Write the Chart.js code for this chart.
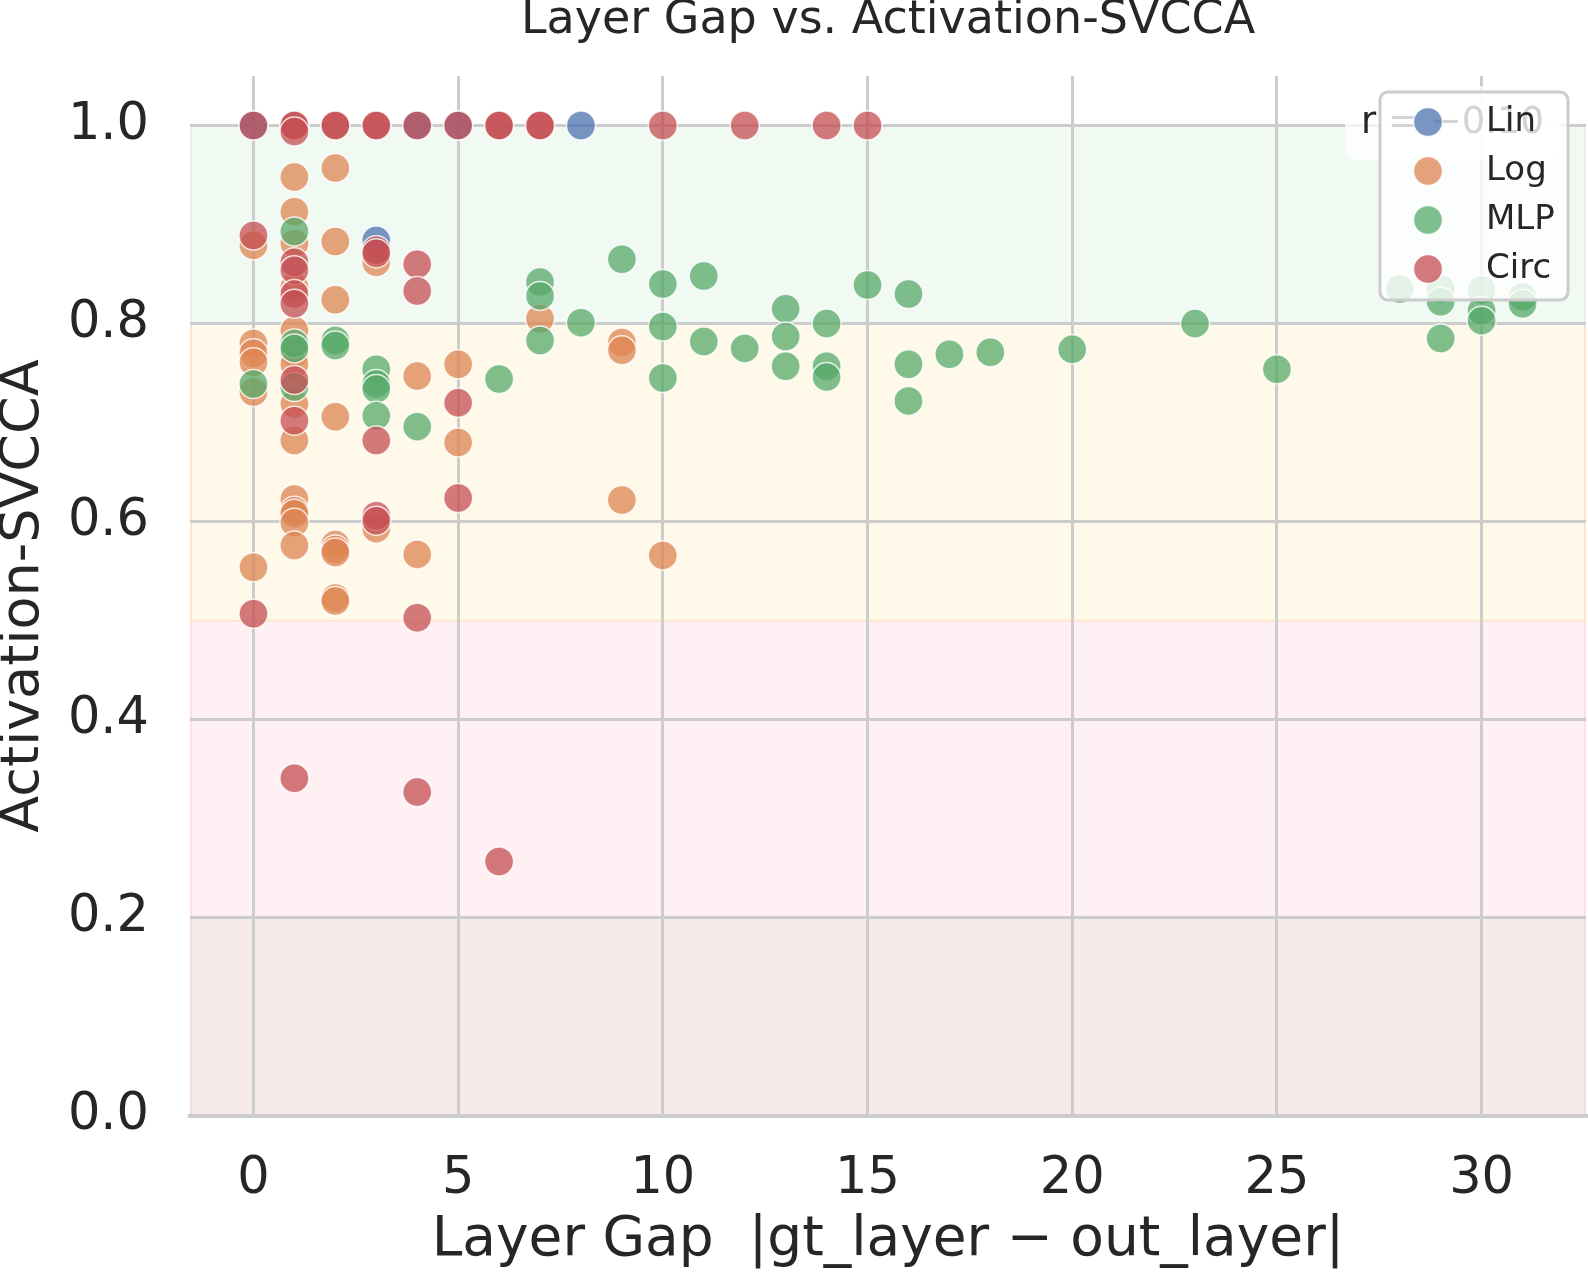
<!DOCTYPE html>
<html>
<head>
<meta charset="utf-8">
<title>Layer Gap vs. Activation-SVCCA</title>
<script src="https://cdn.jsdelivr.net/npm/chart.js@4"></script>
<style>
  html, body { margin: 0; padding: 0; background: #fff; }
  canvas { display: block; }
</style>
</head>
<body>
<canvas id="gapChart" width="1588" height="1275" style="width:1588px;height:1275px"></canvas>
<script>
// ---------- Data ----------
const seriesNames = ["Lin", "Log", "MLP", "Circ"];

const linX = [0, 3, 4, 5, 8];
const linY = [1.0, 0.884, 1.0, 1.0, 1.0];

const logX = [0, 0, 0, 0, 0, 0,
  1, 1, 1, 1, 1, 1, 1, 1, 1, 1, 1, 1, 1, 1,
  2, 2, 2, 2, 2, 2, 2, 2, 2,
  3, 3, 4, 4, 5, 5, 7, 9, 9, 9, 10];
const logY = [0.879, 0.780, 0.770, 0.761, 0.731, 0.554,
  0.948, 0.913, 0.881, 0.837, 0.793, 0.770, 0.759, 0.719, 0.682, 0.623, 0.611, 0.608, 0.599, 0.576,
  0.957, 0.883, 0.824, 0.706, 0.577, 0.572, 0.569, 0.523, 0.520,
  0.862, 0.593, 0.747, 0.567, 0.759, 0.680, 0.805, 0.781, 0.773, 0.622, 0.566];

const mlpX = [0, 1, 1, 1, 1, 2, 2, 3, 3, 3, 3, 4, 6, 7, 7, 7, 8, 9,
  10, 10, 10, 11, 11, 12, 13, 13, 13, 14, 14, 14, 15, 16, 16, 16,
  17, 18, 20, 23, 25, 28, 29, 29, 29, 30, 30, 30, 31, 31];
const mlpY = [0.739, 0.893, 0.780, 0.775, 0.736, 0.783, 0.778, 0.754, 0.739, 0.734, 0.707, 0.696, 0.744, 0.842, 0.828, 0.783, 0.801, 0.865,
  0.840, 0.797, 0.745, 0.848, 0.782, 0.775, 0.815, 0.787, 0.757, 0.800, 0.757, 0.746, 0.839, 0.830, 0.759, 0.722,
  0.769, 0.771, 0.774, 0.800, 0.754, 0.835, 0.835, 0.822, 0.785, 0.834, 0.813, 0.803, 0.827, 0.820];

const circX = [0, 0, 0, 1, 1, 1, 1, 1, 1, 1, 1, 1, 1, 2, 2,
  3, 3, 3, 3, 3, 3, 3, 4, 4, 4, 4, 4, 5, 5, 5, 6, 6, 6, 7, 7, 10, 12, 14, 15];
const circY = [1.0, 0.889, 0.507, 1.0, 1.0, 0.994, 0.862, 0.854, 0.830, 0.820, 0.743, 0.702, 0.341, 1.0, 1.0,
  1.0, 1.0, 0.874, 0.871, 0.682, 0.606, 0.601, 1.0, 0.860, 0.833, 0.503, 0.327, 1.0, 0.720, 0.624, 1.0, 1.0, 0.257, 1.0, 1.0, 1.0, 1.0, 1.0, 1.0];

const xTicks = [0, 5, 10, 15, 20, 25, 30];
const yTicks = [0, 0.2, 0.4, 0.6, 0.8, 1.0];
const yTickLabels = ["0.0", "0.2", "0.4", "0.6", "0.8", "1.0"];

// quality bands behind the points
const bandLow = [0, 0.2, 0.5, 0.8];
const bandHigh = [0.2, 0.5, 0.8, 1.0];

const corrText = "r = \u22120.10";

// ---------- Styles ----------
const FONT = "'DejaVu Sans', sans-serif";
const INK = "#262626";
const seriesColors = ["#4c72b0", "#dd8452", "#55a868", "#c44e52"];
const bandFill = ["#f5e9e9", "#fef0f3", "#fef9e8", "#f0f9f2"];
const bandEdge = ["#f1dcdc", "#fde0e7", "#fde6cc", "#e2f3e6"];
const MARK_ALPHA = 0.75;

function rgba(hex, a) {
  const n = parseInt(hex.slice(1), 16);
  return `rgba(${(n >> 16) & 255}, ${(n >> 8) & 255}, ${n & 255}, ${a})`;
}

function toPoints(xs, ys) {
  return xs.map((x, i) => ({ x: x, y: ys[i] }));
}

// ---------- Plugins ----------
const bandsPlugin = {
  id: "bands",
  beforeDraw(chart) {
    const { ctx, chartArea, scales } = chart;
    ctx.save();
    ctx.fillStyle = "#ffffff";
    ctx.fillRect(0, 0, chart.width, chart.height);
    for (let i = 0; i < bandLow.length; i++) {
      const yTop = scales.y.getPixelForValue(bandHigh[i]);
      const yBot = scales.y.getPixelForValue(bandLow[i]);
      ctx.fillStyle = bandFill[i];
      ctx.fillRect(chartArea.left, yTop, chartArea.right - chartArea.left, yBot - yTop);
      ctx.strokeStyle = bandEdge[i];
      ctx.lineWidth = 2;
      ctx.strokeRect(chartArea.left + 1, yTop, chartArea.right - chartArea.left - 2, yBot - yTop);
    }
    ctx.restore();
  }
};

const overlayPlugin = {
  id: "overlay",
  afterDraw(chart) {
    const { ctx, chartArea } = chart;
    const w = chartArea.right - chartArea.left;
    ctx.save();

    // correlation label (upper right, partly under the legend)
    ctx.font = `37px ${FONT}`;
    const tw = ctx.measureText(corrText).width;
    const tx = chartArea.left + 0.97 * w - tw;
    const ty = 123;
    ctx.fillStyle = "rgba(255,255,255,0.75)";
    ctx.beginPath();
    ctx.roundRect(tx - 16, ty - 37, tw + 32, 74, 10);
    ctx.fill();
    ctx.fillStyle = INK;
    ctx.textAlign = "left";
    ctx.textBaseline = "middle";
    ctx.fillText(corrText, tx, ty);

    // legend
    const lw = 188, lh = 208;
    const lx = chartArea.right - 18 - lw;
    const ly = chartArea.top + 16;
    ctx.beginPath();
    ctx.roundRect(lx, ly, lw, lh, 8);
    ctx.fillStyle = "rgba(255,255,255,0.8)";
    ctx.fill();
    ctx.strokeStyle = "#cccccc";
    ctx.lineWidth = 3;
    ctx.stroke();

    ctx.font = `34px ${FONT}`;
    chart.data.datasets.forEach((ds, i) => {
      const cy = ly + 30 + i * 49;
      ctx.beginPath();
      ctx.arc(lx + 48, cy, 14.5, 0, Math.PI * 2);
      ctx.fillStyle = ds.backgroundColor;
      ctx.fill();
      ctx.strokeStyle = ds.borderColor;
      ctx.lineWidth = 1.5;
      ctx.stroke();
      ctx.fillStyle = INK;
      ctx.fillText(ds.label, lx + 106, cy);
    });
    ctx.restore();
  }
};

// ---------- Chart ----------
const seriesData = [toPoints(linX, linY), toPoints(logX, logY), toPoints(mlpX, mlpY), toPoints(circX, circY)];

const datasets = seriesNames.map((name, i) => ({
  label: name,
  data: seriesData[i],
  backgroundColor: rgba(seriesColors[i], MARK_ALPHA),
  borderColor: "rgba(255,255,255,0.8)",
  borderWidth: 1.5,
  pointRadius: 14.5,
  pointHoverRadius: 14.5,
  order: seriesNames.length - 1 - i   // Circ drawn last (on top)
}));

const ctx = document.getElementById("gapChart").getContext("2d");
new Chart(ctx, {
  type: "scatter",
  data: { datasets: datasets },
  options: {
    responsive: false,
    animation: false,
    devicePixelRatio: 1,
    layout: { autoPadding: false, padding: { left: 0, right: 2, top: 0, bottom: 0 } },
    plugins: {
      legend: { display: false },
      tooltip: { enabled: false },
      title: {
        display: true,
        fullSize: false,
        text: "Layer Gap vs. Activation-SVCCA",
        color: INK,
        font: { family: FONT, size: 46, weight: "normal", lineHeight: 0.9 },
        padding: { top: 0, bottom: 34.6 }
      }
    },
    scales: {
      x: {
        type: "linear",
        min: -1.55,
        max: 32.55,
        afterBuildTicks: (scale) => { scale.ticks = xTicks.map(v => ({ value: v })); },
        afterFit: (scale) => { scale.height = 159; scale.paddingLeft = 0; scale.paddingRight = 0; },
        grid: { color: "#cccccc", lineWidth: 3, drawTicks: false },
        border: { display: true, color: "#cccccc", width: 4 },
        ticks: { color: INK, padding: 33, font: { family: FONT, size: 51 } },
        title: {
          display: true,
          text: "Layer Gap  |gt_layer \u2212 out_layer|",
          color: INK,
          font: { family: FONT, size: 55, lineHeight: 1.2 },
          padding: { top: 0, bottom: 1 }
        }
      },
      y: {
        type: "linear",
        min: 0,
        max: 1.05,
        afterBuildTicks: (scale) => { scale.ticks = yTicks.map(v => ({ value: v })); },
        afterFit: (scale) => { scale.width = 190; scale.paddingTop = 0; scale.paddingBottom = 0; },
        grid: { color: "#cccccc", lineWidth: 3, drawTicks: false },
        border: { display: false },
        ticks: {
          color: INK,
          padding: 41,
          font: { family: FONT, size: 51 },
          callback: (value, index) => yTickLabels[index]
        },
        title: {
          display: true,
          text: "Activation-SVCCA",
          color: INK,
          font: { family: FONT, size: 54, lineHeight: 0.9 },
          padding: { top: 0, bottom: 0 }
        }
      }
    }
  },
  plugins: [bandsPlugin, overlayPlugin]
});
</script>
</body>
</html>
